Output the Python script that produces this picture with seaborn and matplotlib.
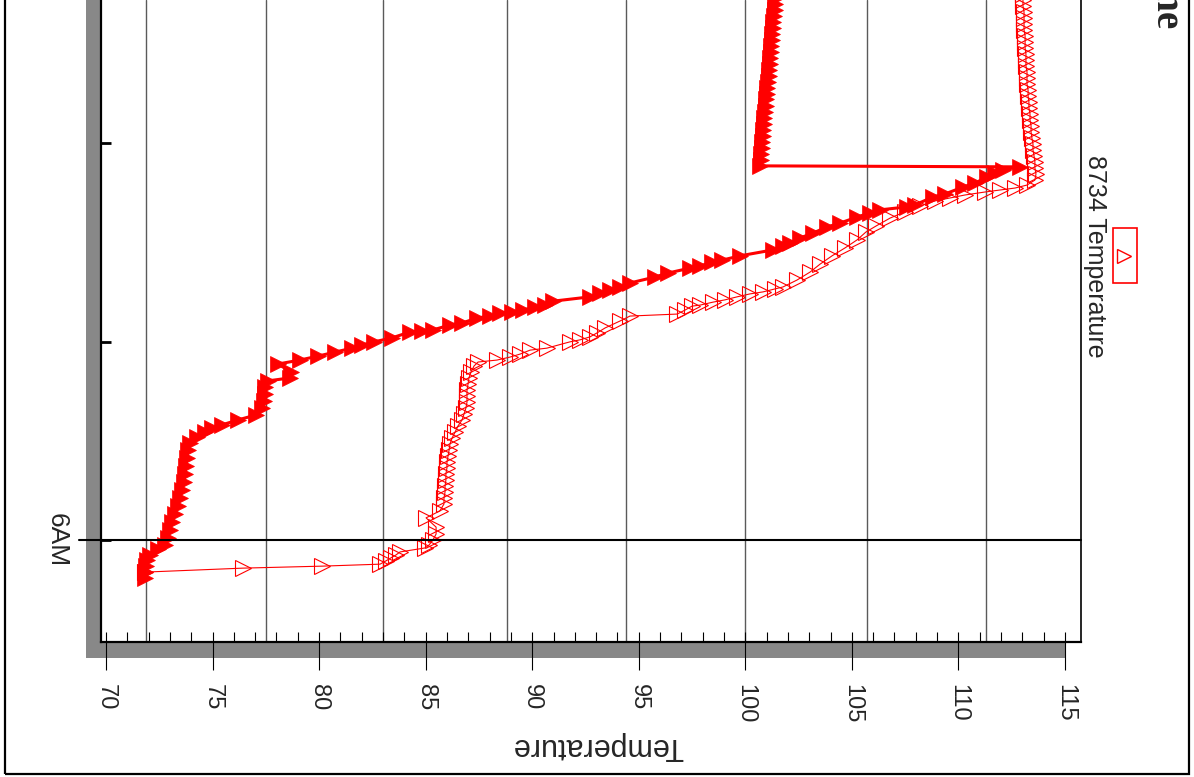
import matplotlib
matplotlib.use("Agg")
import matplotlib.pyplot as plt
import matplotlib.transforms as mtransforms
from matplotlib.patches import Rectangle
from matplotlib.lines import Line2D
import pandas as pd
import seaborn as sns

# Probe 8733 (filled markers): clock time in minutes after midnight, temperature in deg F
probe_8733_minutes = [
    348.5, 350.3, 352.1, 354.0, 355.5, 357.3, 358.5, 360.6, 363.0, 365.4,
    367.9, 370.3, 372.7, 375.1, 377.5, 380.0, 382.4, 384.8, 387.2, 389.3,
    391.1, 392.6, 393.9, 394.8, 396.3, 397.8, 399.9, 402.0, 404.1, 406.3,
    408.1, 409.0, 410.8, 413.2, 414.4, 415.6, 416.8, 418.0, 418.9, 419.9,
    421.1, 422.9, 423.2, 423.5, 425.0, 425.6, 427.1, 427.7, 428.6, 428.9,
    429.5, 430.4, 431.0, 432.2, 433.5, 434.7, 435.6, 436.5, 437.7, 439.5,
    440.7, 442.2, 442.8, 444.0, 444.6, 445.9, 447.7, 448.9, 449.8, 451.3,
    452.8, 454.6, 455.8, 457.6, 458.9, 459.8, 460.7, 461.3, 463.7, 464.6,
    466.7, 467.9, 469.7, 470.9, 471.9, 472.8,
    473.1, 474.9, 476.7, 478.5, 480.3, 482.1, 483.9, 485.8, 487.6, 489.4,
    491.2, 493.2, 494.8, 496.6, 498.5, 500.3, 502.1, 503.9, 505.7, 507.5,
    509.3, 511.1, 513.0, 514.8, 516.6, 518.4, 520.2, 522.0, 523.8,
]
probe_8733_temp = [
    71.83, 71.83, 71.88, 71.92, 72.06, 72.44, 72.77, 72.91, 73.00, 73.10,
    73.24, 73.38, 73.47, 73.57, 73.66, 73.71, 73.75, 73.80, 73.85, 73.94,
    74.27, 74.65, 74.97, 75.44, 76.19, 77.04, 77.32, 77.41, 77.46, 77.46,
    77.60, 78.63, 78.68, 78.07, 79.10, 79.95, 80.75, 81.54, 82.01, 82.58,
    83.42, 84.27, 84.83, 85.34, 86.14, 86.71, 87.41, 88.02, 88.49, 89.05,
    89.57, 90.13, 90.60, 90.98, 92.71, 93.18, 93.65, 94.12, 94.59, 95.76,
    96.37, 97.41, 97.87, 98.44, 98.91, 99.75, 101.30, 101.77, 102.10, 102.57,
    103.18, 103.83, 104.44, 105.24, 105.85, 106.32, 107.59, 107.96, 108.81, 109.37,
    110.22, 110.78, 111.34, 111.72, 112.09, 112.89,
    100.69, 100.74, 100.74, 100.78, 100.80, 100.83, 100.85, 100.88, 100.90, 100.92,
    100.97, 100.99, 101.02, 101.04, 101.06, 101.09, 101.11, 101.14, 101.16, 101.21,
    101.22, 101.25, 101.27, 101.30, 101.32, 101.35, 101.39, 101.40, 101.44,
]

# Probe 8734 (open markers)
probe_8734_minutes = [
    350.3, 351.5, 352.1, 352.7, 353.7, 354.6, 355.5, 356.4, 357.6, 358.5,
    360.0, 361.8, 363.9, 366.7, 368.8, 370.9, 372.7, 374.5, 376.3, 378.1,
    380.0, 381.8, 383.6, 385.4, 387.2, 389.0, 390.8, 392.6, 394.5, 396.3,
    398.1, 399.9, 401.7, 403.5, 405.3, 407.2, 409.0, 410.8, 412.6, 413.8,
    414.4, 415.3, 416.2, 417.4, 418.0, 419.9, 420.5, 421.4, 422.6, 424.1,
    426.2, 427.7, 428.3, 429.5, 430.7, 431.0, 431.9, 432.6, 433.5, 434.4,
    435.0, 435.9, 436.5, 438.6, 441.0, 443.4, 445.9, 448.3, 450.7, 453.1,
    454.9, 457.3, 459.2, 461.0, 462.5, 463.4, 464.3, 465.2, 465.8, 466.4,
    467.3, 468.8,
    470.6, 472.5, 474.3, 476.1, 477.9, 479.7, 481.5, 483.3, 485.2, 487.0,
    488.8, 490.6, 492.4, 494.2, 496.0, 497.8, 499.7, 501.5, 503.3, 505.1,
    506.9, 508.7, 510.5, 512.4, 514.2, 516.0, 517.8, 519.6, 521.4, 523.2,
    525.0,
]
probe_8734_temp = [
    71.83, 76.43, 80.14, 82.86, 83.14, 83.37, 83.61, 83.80, 84.97, 85.16,
    85.34, 85.49, 85.49, 85.02, 85.67, 85.86, 85.86, 85.91, 85.91, 85.95,
    85.95, 86.00, 86.00, 86.05, 86.10, 86.14, 86.24, 86.38, 86.52, 86.71,
    86.80, 86.89, 86.94, 86.94, 86.94, 86.99, 87.03, 87.13, 87.27, 87.46,
    88.35, 88.96, 89.43, 89.90, 90.69, 91.77, 92.24, 92.71, 93.04, 93.42,
    94.12, 94.59, 96.80, 97.17, 97.50, 97.87, 98.48, 99.05, 99.61, 100.22,
    100.83, 101.39, 101.77, 102.43, 103.04, 103.51, 104.07, 104.68, 105.24, 105.66,
    106.13, 106.79, 107.49, 108.20, 108.90, 109.61, 110.31, 111.25, 111.95, 112.66,
    113.22, 113.59,
    113.64, 113.59, 113.59, 113.55, 113.50, 113.50, 113.45, 113.41, 113.41, 113.36,
    113.36, 113.31, 113.31, 113.27, 113.27, 113.22, 113.22, 113.22, 113.17, 113.17,
    113.17, 113.13, 113.13, 113.13, 113.08, 113.08, 113.08, 113.08, 113.03, 113.03,
    113.03,
]

grid_temps = [71.9, 77.5, 83.0, 88.8, 94.4, 100.0, 105.7, 111.3]
temp_ticks = [70, 75, 80, 85, 90, 95, 100, 105, 110, 115]
hour_ticks = [360, 420, 480]
hour_labels = ["6AM", "", ""]
series_label = "8734 Temperature"
axis_label = "Temperature"
chart_title = "Temperature Timeline"

sns.set_style("white")
plt.rcParams["font.family"] = ["Liberation Sans", "DejaVu Sans"]

W, H = 1194, 777
fig = plt.figure(figsize=(W / 100, H / 100), dpi=100, facecolor="white")


def fx(px):
    return px / W


def fy(py):
    return 1 - py / H


# drop shadow behind the plotting area and the outer frame
fig.add_artist(Rectangle((fx(86), fy(658)), fx(1066) - fx(86), 1.5,
                         transform=fig.transFigure, facecolor="#888888",
                         edgecolor="none", zorder=-2))
fig.add_artist(Rectangle((fx(5), fy(774)), fx(1189) - fx(5), 1.5,
                         transform=fig.transFigure, fill=False,
                         edgecolor="black", lw=1.6, zorder=-1))

ax = fig.add_axes([fx(100.5), fy(642), fx(1080.5) - fx(100.5), fy(0) - fy(642)])
ax.set_facecolor("white")

for g in grid_temps:
    ax.axvline(g, color="#5a5a5a", lw=1.0, zorder=0.5)

df_b = pd.DataFrame({"minute": probe_8734_minutes, "temp": probe_8734_temp})
df_a = pd.DataFrame({"minute": probe_8733_minutes, "temp": probe_8733_temp})

sns.lineplot(data=df_b, x="temp", y="minute", sort=False, estimator=None,
             orient="y", color="red", lw=0.8, marker=">", markersize=11.5,
             markerfacecolor="none", markeredgecolor="red",
             markeredgewidth=0.8, ax=ax, zorder=2)
sns.lineplot(data=df_a, x="temp", y="minute", sort=False, estimator=None,
             orient="y", color="red", lw=2.2, marker=">", markersize=11.5,
             markerfacecolor="red", markeredgecolor="red",
             markeredgewidth=0.5, ax=ax, zorder=3)

ax.set_xlim(69.742, 115.73)
ax.set_ylim(329.17, 523.24)

# 6AM marker line, extended across the shadow
blend = mtransforms.blended_transform_factory(ax.transAxes, ax.transData)
ax.plot([(79 - 100.5) / 980, 1], [360, 360], transform=blend, color="black",
        lw=1.5, clip_on=False, zorder=4)

ax.spines["top"].set_visible(False)
for side, lw in (("left", 1.6), ("bottom", 1.6), ("right", 1.2)):
    ax.spines[side].set_color("black")
    ax.spines[side].set_linewidth(lw)

ax.xaxis.remove_overlapping_locs = False
ax.set_xticks(temp_ticks)
ax.set_xticks(range(70, 116), minor=True)
ax.set_xticklabels([str(t) for t in temp_ticks], rotation=-90, fontsize=17)
ax.tick_params(axis="x", which="major", bottom=True, top=False, direction="out",
               length=20, width=0.8, color="black", pad=10)
ax.tick_params(axis="x", which="minor", bottom=True, top=False, direction="in",
               length=7, width=0.8, color="black")

ax.set_yticks(hour_ticks)
ax.set_yticklabels(hour_labels, rotation=-90, fontsize=19, va="center")
ax.tick_params(axis="y", which="major", left=True, right=False, direction="in",
               length=7, width=2, color="black", pad=23)
ax.set_xlabel("")
ax.set_ylabel("")

fig.text(fx(598), fy(746), axis_label, rotation=180, ha="center", va="center",
         fontsize=22)

# legend entry for the open-marker series
fig.add_artist(Rectangle((fx(1113), fy(283)), fx(1137) - fx(1113), fy(228) - fy(283),
                         transform=fig.transFigure, fill=False, edgecolor="red", lw=1.2))
fig.add_artist(Line2D([fx(1124)], [fy(256)], marker=">", markersize=10,
                      markerfacecolor="none", markeredgecolor="red",
                      markeredgewidth=1.0, transform=fig.transFigure))
fig.text(fx(1095), fy(256), series_label, rotation=-90, ha="center", va="center",
         fontsize=18)

fig.text(fx(1166), fy(28), chart_title, rotation=-90, ha="center", va="bottom",
         fontsize=28, fontweight="bold", family=["Liberation Serif", "DejaVu Serif"])

fig.savefig("out.png", dpi=100, facecolor="white")
